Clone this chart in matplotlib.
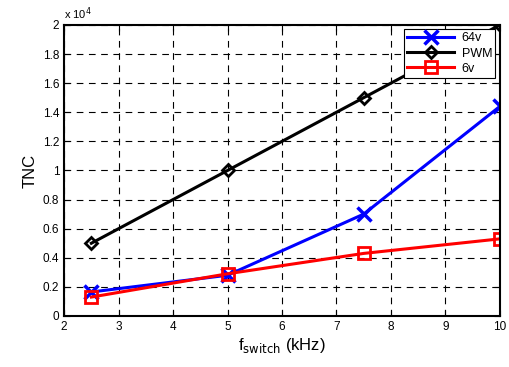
import numpy as np
import matplotlib
matplotlib.use('Agg')
import matplotlib.pyplot as plt

plt.rcParams['font.family'] = ['Liberation Sans', 'DejaVu Sans']

f_switch = [2.5, 5, 7.5, 10]
tnc_64v = [1650, 2800, 7000, 14400]
tnc_pwm = [5000, 10000, 15000, 20000]
tnc_6v = [1300, 2900, 4300, 5300]

fig = plt.figure(figsize=(5.09, 3.67), dpi=100)
ax = fig.add_axes([0.126, 0.139, 0.856, 0.793])

ax.plot(f_switch, tnc_64v, color='b', lw=2.2, marker='x', ms=10, mew=2.5, label='64v')
ax.plot(f_switch, tnc_pwm, color='k', lw=2.2, marker='D', ms=6.5, mew=2, mfc='none', label='PWM')
ax.plot(f_switch, tnc_6v, color='r', lw=2.2, marker='s', ms=8, mew=2, mfc='none', label='6v')

ax.set_xlim(2, 10)
ax.set_ylim(0, 20000)
ax.set_xticks(np.arange(2, 11, 1))
ax.set_yticks(np.arange(0, 20001, 2000))
ax.set_yticklabels(['0', '0.2', '0.4', '0.6', '0.8', '1', '1.2', '1.4', '1.6', '1.8', '2'])
ax.tick_params(direction='in', labelsize=8.5, length=4, top=True, right=True)
ax.grid(True, color='k', linestyle=(0, (6, 5)), lw=0.8)
for s in ax.spines.values():
    s.set_linewidth(1.5)
ax.text(0, 1.01, r'x 10$^4$', transform=ax.transAxes, fontsize=8, ha='left', va='bottom')

ax.set_xlabel(r'f$_{\mathrm{switch}}$ (kHz)', fontsize=12, labelpad=2)
ax.set_ylabel('TNC', fontsize=12)

leg = ax.legend(loc='upper right', fontsize=9, fancybox=False, framealpha=1,
                edgecolor='k', bbox_to_anchor=(0.99, 0.985), borderaxespad=0,
                handlelength=3.8, borderpad=0.25, labelspacing=0.25, handletextpad=0.6)
leg.get_frame().set_linewidth(0.8)

fig.savefig('out.png', dpi=100)
